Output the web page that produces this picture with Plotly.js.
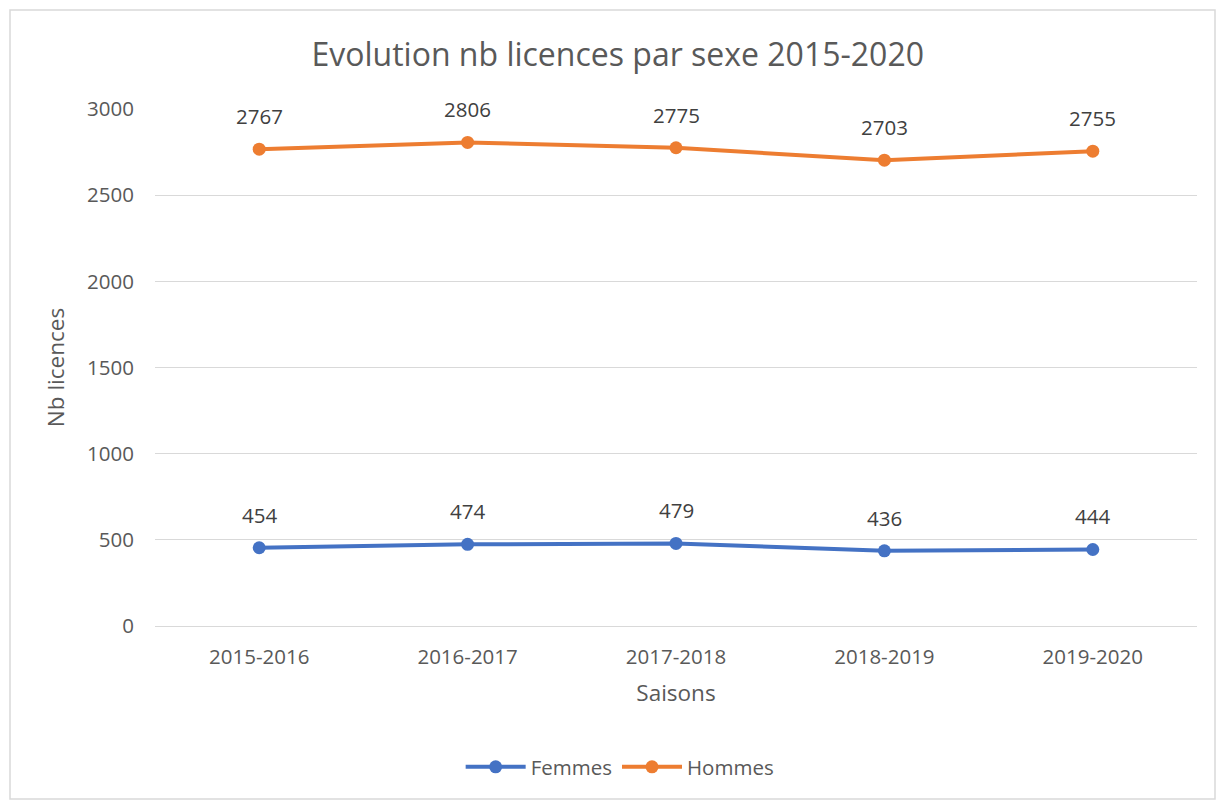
<!DOCTYPE html>
<html><head><meta charset="utf-8">
<script src="https://cdn.plot.ly/plotly-3.0.1.min.js"></script>
<style>html,body{margin:0;padding:0;background:#fff;}#chart{width:1216px;height:800px;}</style>
</head><body><div id="chart"></div>
<script>
const saisons = ["2015-2016", "2016-2017", "2017-2018", "2018-2019", "2019-2020"];
const femmes = [454, 474, 479, 436, 444];
const hommes = [2767, 2806, 2775, 2703, 2755];
const yTicks = [0, 500, 1000, 1500, 2000, 2500, 3000];

const font = "Open Sans, Noto Sans, sans-serif";
const blue = "#4472C4", orange = "#ED7D31";

const traces = [
  {x: saisons, y: femmes, name: "Femmes", type: "scatter", mode: "lines+markers",
   line: {color: blue, width: 4}, marker: {color: blue, size: 13}},
  {x: saisons, y: hommes, name: "Hommes", type: "scatter", mode: "lines+markers",
   line: {color: orange, width: 4}, marker: {color: orange, size: 13}}
];

const annotations = [];
[femmes, hommes].forEach(series => {
  series.forEach((v, i) => annotations.push({
    x: saisons[i], y: v, text: String(v), showarrow: false, yshift: 33,
    font: {family: font, size: 20.5, color: "#404040"}
  }));
});

const plotW = 1216 - 155 - 19, plotH = 626 - 109;
const layout = {
  width: 1216, height: 800,
  margin: {l: 155, r: 19, t: 109, b: 174},
  paper_bgcolor: "#fff", plot_bgcolor: "#fff",
  title: {text: "Evolution nb licences par sexe 2015-2020", font: {family: font, size: 32, color: "#595959"},
          xref: "container", x: 0.508, xanchor: "center", yref: "container", y: 1 - 55/800, yanchor: "middle"},
  xaxis: {type: "category", range: [-0.5, 4.5], showgrid: false, zeroline: false, showline: true, linecolor: "#d9d9d9", linewidth: 1,
          ticks: "", tickfont: {family: font, size: 20.5, color: "#595959"}, ticklabelstandoff: 12,
          title: {text: "Saisons", font: {family: font, size: 22.5, color: "#595959"}, standoff: 16}},
  yaxis: {range: [0, 3000], tickvals: yTicks, showgrid: true, gridcolor: "#d9d9d9", gridwidth: 1, zeroline: false,
          showline: false, ticks: "", tickfont: {family: font, size: 20.5, color: "#595959"}, ticklabelstandoff: 20,
          title: {text: "Nb licences", font: {family: font, size: 22.5, color: "#595959"}, standoff: 16}},
  showlegend: true,
  legend: {orientation: "h", xref: "container", yref: "container", x: 0.51, xanchor: "center", y: 1 - 767/800, yanchor: "middle",
           font: {family: font, size: 20.5, color: "#595959"}, itemwidth: 60, tracegroupgap: 0},
  annotations: annotations,
  shapes: [{type: "rect", xref: "paper", yref: "paper",
            x0: (10 - 155)/plotW, x1: (1215 - 155)/plotW, y0: (626 - 799)/plotH, y1: (626 - 10)/plotH,
            line: {color: "#d9d9d9", width: 1.5}, fillcolor: "rgba(0,0,0,0)", layer: "below"}]
};
Plotly.newPlot("chart", traces, layout, {displayModeBar: false});
</script></body></html>
